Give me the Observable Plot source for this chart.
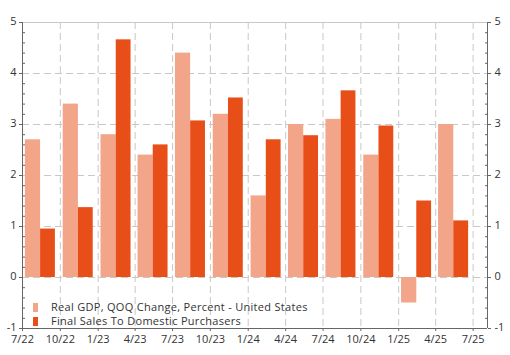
<!DOCTYPE html>
<html><head><meta charset="utf-8">
<script src="https://cdn.jsdelivr.net/npm/d3@7"></script>
<script src="https://cdn.jsdelivr.net/npm/@observablehq/plot@0.6"></script>
<style>
body{margin:0;background:#fff;}
#wrap{position:relative;width:510px;height:355px;}
.leg{position:absolute;left:33px;font:11px "Open Sans",sans-serif;letter-spacing:0.3px;color:#333;white-space:nowrap;}
.leg span{display:inline-block;width:5px;height:9px;margin-right:13px;vertical-align:-1px;}
</style>
</head><body><div id="wrap"></div>
<script>
const quarters = ["2022-07-01","2022-10-01","2023-01-01","2023-04-01","2023-07-01","2023-10-01","2024-01-01","2024-04-01","2024-07-01","2024-10-01","2025-01-01","2025-04-01"];
const gdp = [2.7,3.4,2.8,2.4,4.4,3.2,1.6,3.0,3.1,2.4,-0.5,3.0];
const finalSales = [0.95,1.37,4.66,2.60,3.07,3.52,2.70,2.78,3.66,2.97,1.50,1.11];
const seriesNames = ["Real GDP, QOQ Change, Percent - United States","Final Sales To Domestic Purchasers"];
const seriesColors = ["#f2a588","#e84e17"];
const xTicks = ["2022-07-01","2022-10-01","2023-01-01","2023-04-01","2023-07-01","2023-10-01","2024-01-01","2024-04-01","2024-07-01","2024-10-01","2025-01-01","2025-04-01","2025-07-01"];
const yTicks = [-1,0,1,2,3,4,5];

const xDomain = [new Date("2022-07-01"), new Date("2025-08-05")];
const xTickDates = xTicks.map(d => new Date(d));
const minor = d3.range(-1, 5.001, 0.2).map(v => +v.toFixed(1)).filter(v => !yTicks.includes(v));

const bars = [];
quarters.forEach((q, i) => {
  const d = new Date(q);
  bars.push({series: seriesNames[0], x1: d3.utcDay.offset(d, 7), x2: d3.utcDay.offset(d, 44), value: gdp[i]});
  bars.push({series: seriesNames[1], x1: d3.utcDay.offset(d, 44), x2: d3.utcDay.offset(d, 80), value: finalSales[i]});
});

const fmt = d => `${d.getUTCMonth()+1}/${String(d.getUTCFullYear()).slice(2)}`;
const yFmt = d => String(d);
const none = () => "";
const axisCol = "#666";
const gridCol = "#c8c8c8";

const chart = Plot.plot({
  width: 510, height: 355,
  marginLeft: 22, marginRight: 23, marginTop: 22, marginBottom: 27,
  style: {fontFamily: "'Open Sans', sans-serif", fontSize: "11px", color: "#333", background: "#fff"},
  x: {type: "utc", domain: xDomain},
  y: {domain: [-1, 5]},
  color: {domain: seriesNames, range: seriesColors},
  marks: [
    Plot.gridY(yTicks.filter(v => v !== 5 && v !== -1), {stroke: gridCol, strokeOpacity: 1, strokeDasharray: "7,4"}),
    Plot.gridX(xTickDates, {stroke: gridCol, strokeOpacity: 1, strokeDasharray: "7,4"}),
    Plot.ruleY([5], {stroke: gridCol, strokeOpacity: 1}),
    Plot.rect(bars, {x1: "x1", x2: "x2", y1: 0, y2: "value", fill: "series"}),
    Plot.ruleY([-1], {stroke: axisCol}),
    Plot.ruleX([xDomain[0], xDomain[1]], {y1: -1, y2: 5, stroke: axisCol}),
    Plot.axisY(yTicks, {anchor: "left", tickSize: 3, tickFormat: none, stroke: axisCol, label: null}),
    Plot.axisY(yTicks, {anchor: "left", tickSize: 0, tickPadding: 6, dy: -1.5, tickFormat: yFmt, fill: "#333", label: null}),
    Plot.axisY(minor, {anchor: "left", tickSize: 3, dx: 3, tickFormat: none, stroke: axisCol, label: null}),
    Plot.axisY(yTicks, {anchor: "right", tickSize: 3, tickFormat: none, stroke: axisCol, label: null}),
    Plot.axisY(yTicks, {anchor: "right", tickSize: 0, tickPadding: 7, dy: -1.5, tickFormat: yFmt, fill: "#333", label: null}),
    Plot.axisY(minor, {anchor: "right", tickSize: 3, dx: -3, tickFormat: none, stroke: axisCol, label: null}),
    Plot.axisX(xTickDates, {tickSize: 3, tickPadding: 4, tickFormat: fmt, stroke: axisCol, fill: "#333", label: null})
  ]
});

const wrap = document.getElementById("wrap");
wrap.appendChild(chart);
seriesNames.forEach((name, i) => {
  const div = document.createElement("div");
  div.className = "leg";
  div.style.top = (299 + i * 13.5) + "px";
  div.innerHTML = `<span style="background:${seriesColors[i]}"></span>${name}`;
  wrap.appendChild(div);
});
</script>
</body></html>
